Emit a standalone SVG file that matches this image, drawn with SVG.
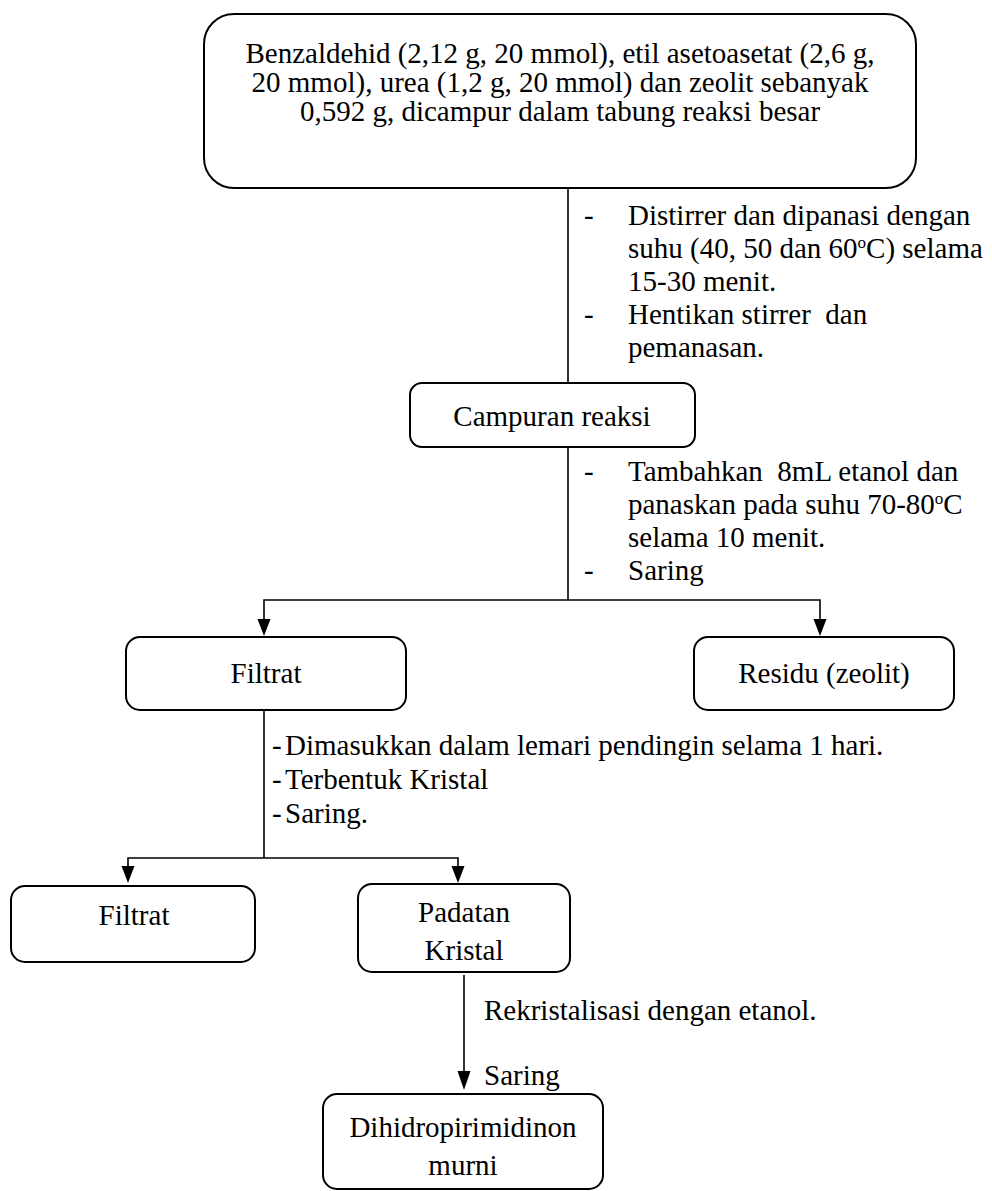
<svg xmlns="http://www.w3.org/2000/svg" width="992" height="1191" viewBox="0 0 992 1191">
<defs>
<style>
.box{fill:#fff;stroke:#000;stroke-width:2}
.t{font-family:"Liberation Serif","Times New Roman",serif;font-size:29px;fill:#000}
.c{text-anchor:middle}
.ln{stroke:#000;stroke-width:1.6;fill:none}
.ah{fill:#000}
.sup{font-size:17px}
</style>
</defs>
<rect width="992" height="1191" fill="#fff"/>
<g id="connectors">
<line class="ln" x1="568" y1="188" x2="568" y2="383"/>
<line class="ln" x1="568" y1="447" x2="568" y2="600"/>
<polyline class="ln" points="264,622 264,600 820,600 820,622"/>
<path class="ah" d="M257.5,619 L270.5,619 L264,636 Z"/>
<path class="ah" d="M813.5,619 L826.5,619 L820,636 Z"/>
<line class="ln" x1="264" y1="710" x2="264" y2="858"/>
<polyline class="ln" points="128,868 128,858 458,858 458,868"/>
<path class="ah" d="M121.5,866 L134.5,866 L128,883 Z"/>
<path class="ah" d="M451.5,866 L464.5,866 L458,883 Z"/>
<line class="ln" x1="464" y1="975" x2="464" y2="1075"/>
<path class="ah" d="M457.5,1071 L470.5,1071 L464,1090 Z"/>
</g>
<g id="n-start">
<rect class="box" x="204" y="14" width="712" height="174" rx="30"/>
<text class="t c" x="560" y="63">Benzaldehid (2,12 g, 20 mmol), etil asetoasetat (2,6 g,</text>
<text class="t c" x="560" y="92">20 mmol), urea (1,2 g, 20 mmol) dan zeolit sebanyak</text>
<text class="t c" x="560" y="121">0,592 g, dicampur dalam tabung reaksi besar</text>
</g>
<g id="note1">
<text class="t" x="584" y="225" font-size="28">-</text>
<text class="t" x="628" y="225" font-size="28">Distirrer dan dipanasi dengan</text>
<text class="t" x="628" y="258" font-size="28">suhu (40, 50 dan 60<tspan class="sup" dy="-10">o</tspan><tspan dy="10">C) selama</tspan></text>
<text class="t" x="628" y="291" font-size="28">15-30 menit.</text>
<text class="t" x="584" y="324" font-size="28">-</text>
<text class="t" x="628" y="324" font-size="28" xml:space="preserve">Hentikan stirrer  dan</text>
<text class="t" x="628" y="357" font-size="28">pemanasan.</text>
</g>
<g id="n-campuran">
<rect class="box" x="410" y="383" width="285" height="64" rx="12"/>
<text class="t c" x="552" y="426" font-size="32">Campuran reaksi</text>
</g>
<g id="note2">
<text class="t" x="584" y="481">-</text>
<text class="t" x="628" y="481" xml:space="preserve">Tambahkan  8mL etanol dan</text>
<text class="t" x="628" y="514">panaskan pada suhu 70-80<tspan class="sup" dy="-10">o</tspan><tspan dy="10">C</tspan></text>
<text class="t" x="628" y="547">selama 10 menit.</text>
<text class="t" x="584" y="580">-</text>
<text class="t" x="628" y="580">Saring</text>
</g>
<g id="n-filtrat1">
<rect class="box" x="126" y="637" width="280" height="73" rx="14"/>
<text class="t c" x="266" y="683">Filtrat</text>
</g>
<g id="n-residu">
<rect class="box" x="694" y="637" width="260" height="73" rx="14"/>
<text class="t c" x="824" y="683">Residu (zeolit)</text>
</g>
<g id="note3">
<text class="t" x="272" y="755" font-size="30">-</text>
<text class="t" x="285" y="755" font-size="30">Dimasukkan dalam lemari pendingin selama 1 hari.</text>
<text class="t" x="272" y="789" font-size="30">-</text>
<text class="t" x="285" y="789" font-size="30">Terbentuk Kristal</text>
<text class="t" x="272" y="823" font-size="30">-</text>
<text class="t" x="285" y="823" font-size="30">Saring.</text>
</g>
<g id="n-filtrat2">
<rect class="box" x="11" y="886" width="244" height="76" rx="14"/>
<text class="t c" x="134" y="925">Filtrat</text>
</g>
<g id="n-padatan">
<rect class="box" x="358" y="884" width="212" height="88" rx="14"/>
<text class="t c" x="464" y="922">Padatan</text>
<text class="t c" x="464" y="960">Kristal</text>
</g>
<g id="note4">
<text class="t" x="484" y="1020">Rekristalisasi dengan etanol.</text>
<text class="t" x="484" y="1085">Saring</text>
</g>
<g id="n-dihidro">
<rect class="box" x="323" y="1094" width="280" height="95" rx="14"/>
<text class="t c" x="463" y="1137">Dihidropirimidinon</text>
<text class="t c" x="463" y="1175">murni</text>
</g>
</svg>
